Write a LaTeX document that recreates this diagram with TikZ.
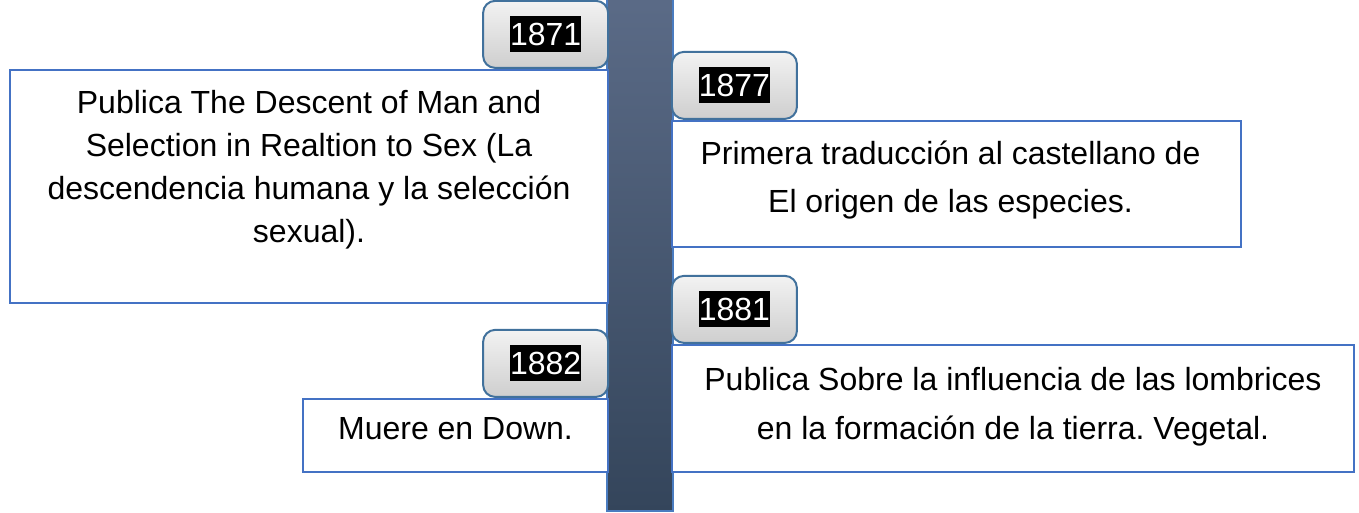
\documentclass[tikz,border=0pt]{standalone}
\usepackage{fontspec}
\setmainfont{Liberation Sans}
\frenchspacing
\usetikzlibrary{positioning}
\definecolor{boxblue}{HTML}{4472C4}
\definecolor{tabblue}{HTML}{41719C}
\definecolor{barline}{HTML}{4A7CC0}
\definecolor{bartop}{HTML}{5B6B87}
\definecolor{barbot}{HTML}{34455B}
\tikzset{
  event/.style={draw=boxblue, line width=2.2pt, fill=white, inner sep=0pt},
  tab/.style={
    draw=tabblue, line width=2pt, rounded corners=12pt,
    top color=gray!10, bottom color=gray!38,
    minimum width=125pt, minimum height=67pt, inner sep=0pt
  },
  year/.style={
    fill=black, text=white, inner sep=0pt,
    text height=29pt, text depth=6.8pt,
    font=\fontsize{32}{38}\selectfont
  },
  desc/.style={align=center, inner sep=0pt, font=\fontsize{32}{#1}\selectfont},
  desc/.default=48
}

\begin{document}
\begin{tikzpicture}[x=1pt,y=1pt]
  \useasboundingbox (0,0) rectangle (1359,513);

  % Timeline bar
  \shade[top color=bartop, bottom color=barbot, draw=barline, line width=1.5pt]
    (607,2) rectangle (673,520);

  % Event boxes
  \node[event, minimum width=598pt, minimum height=233pt] (b1871) at (309,326.5) {};
  \node[event, minimum width=569pt, minimum height=126pt] (b1877) at (956.5,329) {};
  \node[event, minimum width=682pt, minimum height=127pt] (b1881) at (1013,104.5) {};
  \node[event, minimum width=305pt, minimum height=73pt] (b1882) at (455.5,77.5) {};

  % Year tabs
  \node[tab, anchor=south east] (t1871) at (b1871.north east) {};
  \node[tab, anchor=south west] (t1877) at (b1877.north west) {};
  \node[tab, anchor=south west] (t1881) at (b1881.north west) {};
  \node[tab, anchor=south east] (t1882) at (b1882.north east) {};

  \node[year] (y1871) at (t1871) {1871};
  \node[year] (y1877) at (t1877) {1877};
  \node[year] (y1881) at (t1881) {1881};
  \node[year] (y1882) at (t1882) {1882};

  % Texts
  \node[desc=43] (d1871) at ([yshift=17pt]b1871.center)
    {Publica The Descent of Man and\\Selection in Realtion to Sex (La\\descendencia humana y la selección\\sexual).};
  \node[desc=48] (d1877) at ([xshift=-6pt,yshift=4pt]b1877.center)
    {Primera traducción al castellano de\\El origen de las especies.};
  \node[desc=49] (d1881) at ([yshift=2pt]b1881.center)
    {Publica Sobre la influencia de las lombrices\\en la formación de la tierra. Vegetal.};
  \node[desc] (d1882) at ([yshift=7pt]b1882.center) {Muere en Down.};
\end{tikzpicture}
\end{document}
